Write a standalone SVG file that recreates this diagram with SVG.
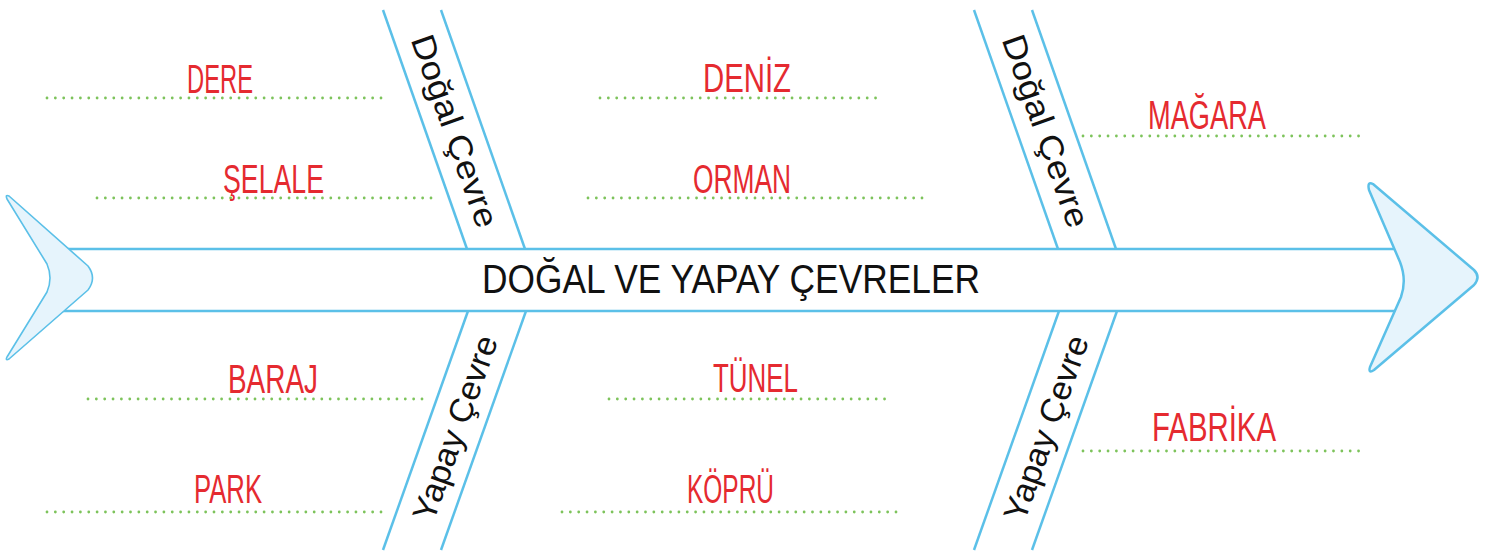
<svg xmlns="http://www.w3.org/2000/svg" width="1495" height="552" viewBox="0 0 1495 552">
<style>
.bone{stroke:#5bc0e8;stroke-width:2.5;fill:none}
.shape{fill:#e6f4fc;stroke:#5bc0e8;stroke-linejoin:round}
.dots{stroke:#7dc35b;stroke-width:2.8;stroke-linecap:round;stroke-dasharray:0 8.35;fill:none}
.lbl{font-family:"Liberation Sans",Arial,sans-serif;font-size:41px;fill:#e52a30}
.cat{font-family:"Liberation Sans",Arial,sans-serif;font-size:33px;fill:#111}
.title{font-family:"Liberation Sans",Arial,sans-serif;font-size:41px;fill:#111}
</style>
<rect width="1495" height="552" fill="#fff"/>
<g id="connectors">
<line class="bone" x1="60" y1="249" x2="1402" y2="249"/>
<line class="bone" x1="60" y1="311" x2="1402" y2="311"/>
<line class="bone" x1="383" y1="10" x2="467" y2="249"/>
<line class="bone" x1="441" y1="10" x2="525" y2="249"/>
<line class="bone" x1="468" y1="311" x2="383" y2="550"/>
<line class="bone" x1="526" y1="311" x2="441" y2="550"/>
<line class="bone" x1="974" y1="10" x2="1058" y2="249"/>
<line class="bone" x1="1032" y1="10" x2="1116" y2="249"/>
<line class="bone" x1="1059" y1="311" x2="974" y2="550"/>
<line class="bone" x1="1117" y1="311" x2="1032" y2="550"/>
</g>
<g id="tail">
<path class="shape" stroke-width="1.6" d="M 9,196 L 88,266 Q 97,278 88,290 L 9,359 Q 5,361 7,357 L 47,292 Q 53,278 47,264 L 7,199 Q 5,194 9,196 Z"/>
</g>
<g id="head">
<path class="shape" stroke-width="2.5" d="M 1373,184 L 1474,270 Q 1481,277 1474,285 L 1374,370 Q 1368,374 1370,367 L 1401,297 Q 1407,280 1400,262 L 1369,190 Q 1367,181 1373,184 Z"/>
</g>
<g id="title">
<text class="title" x="731" y="293" text-anchor="middle" textLength="498" lengthAdjust="spacingAndGlyphs">DOĞAL VE YAPAY ÇEVRELER</text>
</g>
<g id="bone-dogal-1">
<text class="cat" transform="translate(455,131) rotate(70.56)" text-anchor="middle" dy="0.35em" textLength="202" lengthAdjust="spacingAndGlyphs">Doğal Çevre</text>
</g>
<g id="bone-yapay-1">
<text class="cat" transform="translate(455,428) rotate(-70.4)" text-anchor="middle" dy="0.35em" textLength="194" lengthAdjust="spacingAndGlyphs">Yapay Çevre</text>
</g>
<g id="bone-dogal-2">
<text class="cat" transform="translate(1046,131) rotate(70.56)" text-anchor="middle" dy="0.35em" textLength="202" lengthAdjust="spacingAndGlyphs">Doğal Çevre</text>
</g>
<g id="bone-yapay-2">
<text class="cat" transform="translate(1046,428) rotate(-70.4)" text-anchor="middle" dy="0.35em" textLength="194" lengthAdjust="spacingAndGlyphs">Yapay Çevre</text>
</g>
<g id="item-dere">
<line class="dots" x1="47" y1="98" x2="383" y2="98"/>
<text class="lbl" x="187" y="93" textLength="66" lengthAdjust="spacingAndGlyphs">DERE</text>
</g>
<g id="item-selale">
<line class="dots" x1="97" y1="198" x2="433" y2="198"/>
<text class="lbl" x="223" y="193" textLength="101" lengthAdjust="spacingAndGlyphs">ŞELALE</text>
</g>
<g id="item-deniz">
<line class="dots" x1="600" y1="98" x2="876" y2="98"/>
<text class="lbl" x="703" y="92" textLength="88" lengthAdjust="spacingAndGlyphs">DENİZ</text>
</g>
<g id="item-orman">
<line class="dots" x1="588" y1="198" x2="929" y2="198"/>
<text class="lbl" x="693" y="193" textLength="98" lengthAdjust="spacingAndGlyphs">ORMAN</text>
</g>
<g id="item-magara">
<line class="dots" x1="1083" y1="136" x2="1360" y2="136"/>
<text class="lbl" x="1148" y="129" textLength="118" lengthAdjust="spacingAndGlyphs">MAĞARA</text>
</g>
<g id="item-baraj">
<line class="dots" x1="88" y1="399" x2="427" y2="399"/>
<text class="lbl" x="228" y="393" textLength="90" lengthAdjust="spacingAndGlyphs">BARAJ</text>
</g>
<g id="item-park">
<line class="dots" x1="47" y1="512" x2="383" y2="512"/>
<text class="lbl" x="194" y="503" textLength="68" lengthAdjust="spacingAndGlyphs">PARK</text>
</g>
<g id="item-tunel">
<line class="dots" x1="609" y1="399" x2="885" y2="399"/>
<text class="lbl" x="713" y="392" textLength="85" lengthAdjust="spacingAndGlyphs">TÜNEL</text>
</g>
<g id="item-kopru">
<line class="dots" x1="562" y1="512" x2="900" y2="512"/>
<text class="lbl" x="687" y="503" textLength="87" lengthAdjust="spacingAndGlyphs">KÖPRÜ</text>
</g>
<g id="item-fabrika">
<line class="dots" x1="1083" y1="451" x2="1360" y2="451"/>
<text class="lbl" x="1152" y="441" textLength="124" lengthAdjust="spacingAndGlyphs">FABRİKA</text>
</g>
</svg>
